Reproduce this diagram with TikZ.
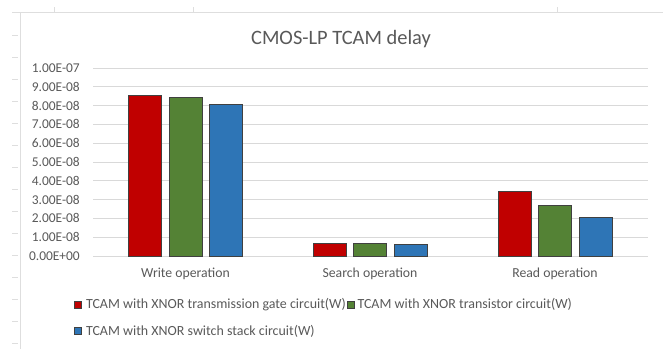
\documentclass[tikz,border=0pt]{standalone}
\usepackage{fontspec}
\setmainfont{Carlito}
\usetikzlibrary{positioning}
\definecolor{barred}{HTML}{C00000}
\definecolor{bargreen}{HTML}{548235}
\definecolor{barblue}{HTML}{2E75B6}
\definecolor{textgray}{HTML}{595959}
\definecolor{linegray}{HTML}{D9D9D9}

\begin{document}
\begin{tikzpicture}[x=1bp, y=-1bp]

\tikzstyle{sheet}=[draw=black!13, line width=0.9bp]
\tikzstyle{grid}=[draw=linegray, line width=0.9bp]
\tikzstyle{bar}=[draw=black!75, line width=0.7bp]
\tikzstyle{ticklabel}=[anchor=east, inner sep=0pt, text=textgray, font=\fontsize{13.5}{15}\selectfont]
\tikzstyle{catlabel}=[inner sep=0pt, text=textgray, font=\fontsize{13.8}{15}\selectfont]
\tikzstyle{legkey}=[draw=black!75, line width=0.6bp, minimum size=7bp, inner sep=0pt]
\tikzstyle{legtext}=[anchor=west, inner sep=0pt, text=textgray, font=\fontsize{14}{16}\selectfont]

\useasboundingbox (0,0) rectangle (667,349);

% spreadsheet cells behind the chart
\draw[sheet] (12,12) -- (663,12);
\foreach \x in {54,193,557} \draw[sheet] (\x,7) -- (\x,12);
\draw[sheet] (20,12) -- (20,349);
\foreach \y in {35,57,...,343} \draw[sheet] (12,\y) -- (18,\y);

\node (title) [text=textgray, font=\fontsize{20.5}{24}\selectfont] at (341,39) {CMOS-LP TCAM delay};

% value axis
\foreach \v/\lab in {0/0.00E+00, 1/1.00E-08, 2/2.00E-08, 3/3.00E-08, 4/4.00E-08,
                     5/5.00E-08, 6/6.00E-08, 7/7.00E-08, 8/8.00E-08, 9/9.00E-08, 10/1.00E-07} {
  \draw[grid] (93,{256-18.8*\v}) -- (648,{256-18.8*\v});
  \node (tick\v) [ticklabel] at (80,{256-18.8*\v}) {\lab};
}

% bars
\foreach \c/\cx/\r/\g/\b/\lab in {write/185.5/8.56/8.46/8.09/Write operation,
                                   search/370/0.68/0.68/0.60/Search operation,
                                   read/555/3.42/2.68/2.07/Read operation} {
  \draw[bar, fill=barred]   (\cx-57,256) rectangle ({\cx-24},{256-18.8*\r});
  \draw[bar, fill=bargreen] (\cx-16.5,256) rectangle ({\cx+16.5},{256-18.8*\g});
  \draw[bar, fill=barblue]  (\cx+24,256) rectangle ({\cx+57},{256-18.8*\b});
  \node (\c) [catlabel] at (\cx,274) {\lab};
}

% legend
\node (keyA) [legkey, fill=barred] at (78,304.5) {};
\node (legA) [legtext, right=4bp of keyA] {TCAM with XNOR transmission gate circuit(W)};
\node (keyB) [legkey, fill=bargreen] at (350.5,304.5) {};
\node (legB) [legtext, right=3bp of keyB] {TCAM with XNOR transistor circuit(W)};
\node (keyC) [legkey, fill=barblue] at (78,331) {};
\node (legC) [legtext, right=4bp of keyC] {TCAM with XNOR switch stack circuit(W)};
\end{tikzpicture}
\end{document}
